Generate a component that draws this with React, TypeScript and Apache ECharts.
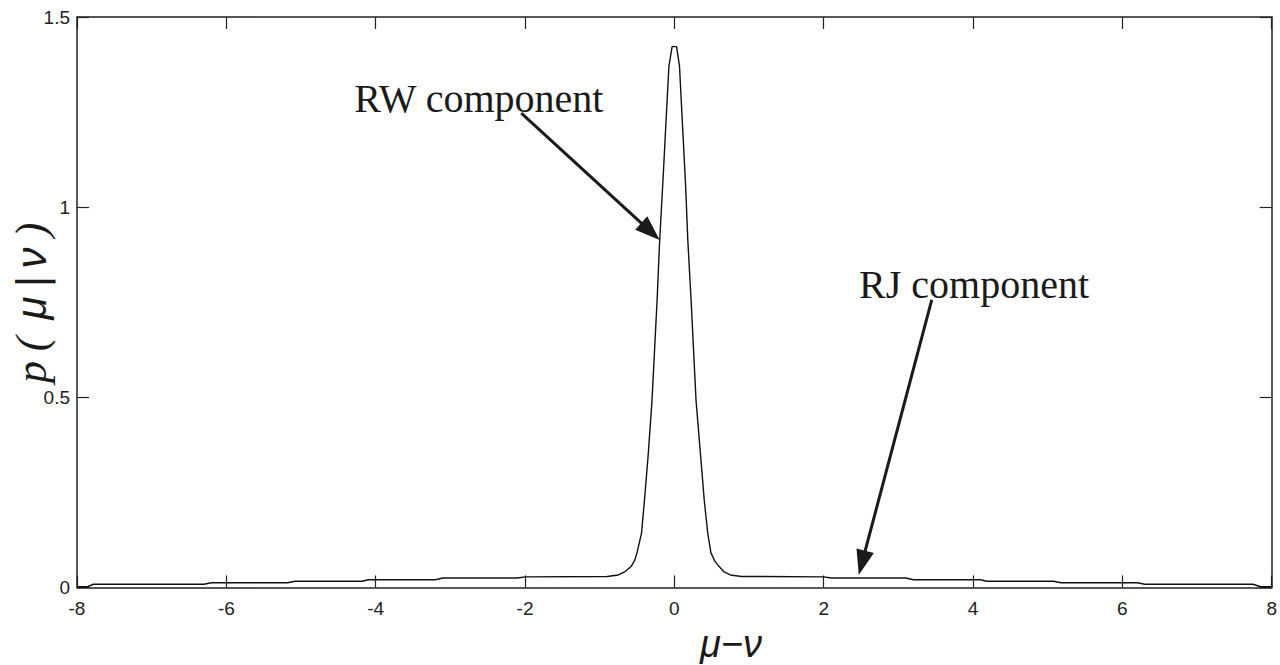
import React, { useEffect, useRef } from "react";
import * as echarts from "echarts";

// x tick values and y tick values
const xTicks = [-8, -6, -4, -2, 0, 2, 4, 6, 8];
const yTicks = [0, 0.5, 1, 1.5];

// density curve p(mu|nu): [mu - nu, p]
const leftTail: [number, number][] = [
  [-8, 0.002], [-7.86, 0.002], [-7.78, 0.0085], [-6.3, 0.0085], [-6.2, 0.0125],
  [-5.18, 0.0125], [-5.08, 0.0165], [-4.18, 0.0165], [-4.1, 0.0205], [-3.2, 0.0205],
  [-3.1, 0.025], [-2.1, 0.025], [-2.0, 0.028], [-0.9, 0.029],
];
const peak: [number, number][] = [
  [-0.75, 0.033], [-0.66, 0.042], [-0.58, 0.055], [-0.53, 0.072], [-0.5, 0.091],
  [-0.44, 0.143], [-0.4, 0.23], [-0.35, 0.35], [-0.3, 0.49], [-0.23, 0.76],
  [-0.2, 0.9], [-0.15, 1.08], [-0.1, 1.27], [-0.073, 1.37], [-0.03, 1.422],
  [0.03, 1.422], [0.069, 1.37], [0.1, 1.25], [0.15, 1.06], [0.18, 0.914],
  [0.224, 0.756], [0.29, 0.493], [0.35, 0.35], [0.4, 0.23], [0.447, 0.143],
  [0.49, 0.091], [0.54, 0.07], [0.6, 0.055], [0.66, 0.042], [0.75, 0.033],
];
const rightTail: [number, number][] = [
  [0.9, 0.029], [2.0, 0.028], [2.1, 0.025], [3.1, 0.025], [3.2, 0.0205],
  [4.1, 0.0205], [4.18, 0.0165], [5.08, 0.0165], [5.18, 0.0125], [6.2, 0.0125],
  [6.3, 0.0085], [7.75, 0.0085], [7.85, 0.002], [8, 0.002],
];

// annotations in data coordinates
const annotations = [
  { text: "RW component", textAt: [-4.287, 1.256], from: [-2.05, 1.247], to: [-0.197, 0.914] },
  { text: "RJ component", textAt: [2.473, 0.769], from: [3.447, 0.756], to: [2.47, 0.033] },
];

// y-axis title pieces: [text, font kind, offset along the text direction]
const yTitleParts: [string, string, number][] = [
  ["p", "serif", -70],
  ["(", "serif", -42],
  ["μ", "sans", -6],
  ["|", "sans", 20],
  ["ν", "sans", 44],
  [")", "serif", 72],
];

const AXIS_COLOR = "#222";

export default function App() {
  const ref = useRef<HTMLDivElement>(null);

  useEffect(() => {
    if (!ref.current) return;
    const chart = echarts.init(ref.current, undefined, { renderer: "svg" });
    const data = [...leftTail, ...peak, ...rightTail];
    const axisCommon = {
      type: "value" as const,
      axisLine: { show: true, onZero: false, lineStyle: { color: AXIS_COLOR, width: 1.5 } },
      axisTick: { show: true, inside: true, length: 12, lineStyle: { color: AXIS_COLOR, width: 1.2 } },
      splitLine: { show: false },
    };
    chart.setOption({
      animation: false,
      backgroundColor: "#fff",
      grid: { left: 77, right: 3, top: 17, bottom: 77.5 },
      xAxis: [
        {
          ...axisCommon,
          position: "bottom",
          min: -8, max: 8, interval: 2,
          axisLabel: {
            color: AXIS_COLOR, fontSize: 19, fontFamily: "Liberation Sans, Arial, sans-serif", margin: 11,
            formatter: (v: number) => (xTicks.includes(v) ? String(v) : ""),
          },
        },
        {
          ...axisCommon,
          position: "top",
          min: -8, max: 8, interval: 2,
          axisLabel: { show: false },
        },
      ],
      yAxis: [
        {
          ...axisCommon,
          position: "left",
          min: 0, max: 1.5, interval: 0.5,
          axisLabel: {
            color: AXIS_COLOR, fontSize: 19, fontFamily: "Liberation Sans, Arial, sans-serif", margin: 7,
            formatter: (v: number) => (yTicks.includes(v) ? String(v) : ""),
          },
        },
        {
          ...axisCommon,
          position: "right",
          min: 0, max: 1.5, interval: 0.5,
          axisLabel: { show: false },
        },
      ],
      series: [
        {
          type: "line",
          data,
          showSymbol: false,
          symbol: "none",
          lineStyle: { color: "#111", width: 1.4 },
          xAxisIndex: 0,
          yAxisIndex: 0,
        },
      ],
    });

    const serif = "Liberation Serif, Times New Roman, serif";
    const sans = "Liberation Sans, Arial, sans-serif";
    const graphics: any[] = [];
    annotations.forEach((a) => {
      const tp = chart.convertToPixel({ xAxisIndex: 0, yAxisIndex: 0 }, a.textAt) as number[];
      const f = chart.convertToPixel({ xAxisIndex: 0, yAxisIndex: 0 }, a.from) as number[];
      const t = chart.convertToPixel({ xAxisIndex: 0, yAxisIndex: 0 }, a.to) as number[];
      graphics.push({
        type: "text",
        x: tp[0],
        y: tp[1] + 9,
        style: { text: a.text, fill: "#1a1a1a", font: `40px ${serif}`, align: "left", verticalAlign: "bottom" },
      });
      const dx = t[0] - f[0];
      const dy = t[1] - f[1];
      const len = Math.sqrt(dx * dx + dy * dy);
      const ux = dx / len, uy = dy / len;
      const headLen = 25, headHalf = 9;
      const bx = t[0] - ux * headLen, by = t[1] - uy * headLen;
      graphics.push({
        type: "line",
        shape: { x1: f[0], y1: f[1], x2: bx + ux * 2, y2: by + uy * 2 },
        style: { stroke: "#1a1a1a", lineWidth: 3 },
      });
      graphics.push({
        type: "polygon",
        shape: {
          points: [
            [t[0], t[1]],
            [bx - uy * headHalf, by + ux * headHalf],
            [bx + uy * headHalf, by - ux * headHalf],
          ],
        },
        style: { fill: "#1a1a1a" },
      });
    });
    graphics.push({
      type: "group",
      x: 31,
      y: 302,
      rotation: Math.PI / 2,
      children: yTitleParts.map(([txt, kind, off]) => ({
        type: "text",
        x: off,
        y: 0,
        style: {
          text: txt,
          fill: "#1a1a1a",
          font: kind === "serif" ? `italic 44px ${serif}` : `italic 42px ${sans}`,
          align: "center",
          verticalAlign: "middle",
        },
      })),
    });
    graphics.push({
      type: "text",
      x: 731,
      y: 644,
      style: { text: "μ−ν", fill: "#1a1a1a", font: `italic 38px ${sans}`, align: "center", verticalAlign: "middle" },
    });
    chart.setOption({ graphic: graphics });

    return () => chart.dispose();
  }, []);

  return <div ref={ref} style={{ width: 1280, height: 665, position: "absolute", left: 0, top: 0 }} />;
}
